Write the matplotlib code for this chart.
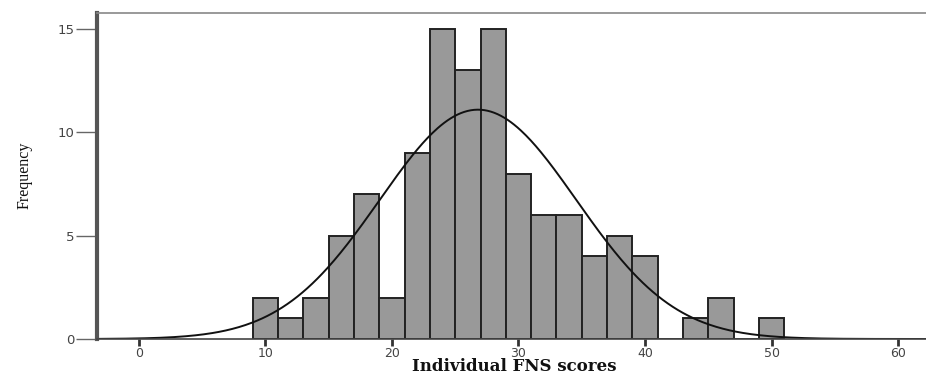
import numpy as np
import matplotlib
matplotlib.use("Agg")
import matplotlib.pyplot as plt

# histogram bins (width 2) and their counts
bin_edges = np.arange(9, 53, 2)
counts = [2, 1, 2, 5, 7, 2, 9, 15, 13, 15, 8, 6, 6, 4, 5, 4, 0, 1, 2, 0, 1]

# fitted normal curve, centre
curve_mean = 26.8

counts_arr = np.array(counts)
mids = bin_edges[:-1] + 1
n = counts_arr.sum()
width = bin_edges[1] - bin_edges[0]
m = np.sum(mids * counts_arr) / n
sd = np.sqrt(np.sum(counts_arr * (mids - m) ** 2) / (n - 1))

fig = plt.figure(figsize=(9.26, 3.76), dpi=100)
ax = fig.add_axes([0.1048, 0.0984, 1 - 0.1048, 0.867])

ax.bar(bin_edges[:-1], counts, width=width, align='edge',
       color='#999999', edgecolor='#222222', linewidth=1.4)

xs = np.linspace(-3.3, 62.5, 500)
curve = n * width / (sd * np.sqrt(2 * np.pi)) * np.exp(-0.5 * ((xs - curve_mean) / sd) ** 2)
ax.plot(xs, curve, color='#111111', linewidth=1.4)

ax.set_xlim(-3.3, 62.2)
ax.set_ylim(0, 15.77)
ax.set_xticks([0, 10, 20, 30, 40, 50, 60])
ax.set_yticks([0, 5, 10, 15])

ax.tick_params(axis='x', direction='out', length=5, width=2, colors='#333333',
               labelsize=9, labelcolor='#444444', pad=0.5)
ax.tick_params(axis='y', direction='out', length=15, width=1, colors='#666666',
               labelsize=9.5, labelcolor='#444444', pad=1)

ax.spines['left'].set_color('#555555')
ax.spines['left'].set_linewidth(3)
ax.spines['top'].set_color('#888888')
ax.spines['top'].set_linewidth(1.2)
ax.spines['bottom'].set_color('#444444')
ax.spines['bottom'].set_linewidth(1.2)
ax.spines['right'].set_visible(False)

fig.text(514 / 926, 1 / 376, 'Individual FNS scores', family='DejaVu Serif',
         fontweight='bold', fontsize=12, ha='center', va='bottom', color='#111111')
fig.text(25 / 926, 1 - 175 / 376, 'Frequency', family='Liberation Serif',
         fontsize=11.5, rotation=90, ha='center', va='center', color='#111111')

fig.savefig('out.png', dpi=100)
